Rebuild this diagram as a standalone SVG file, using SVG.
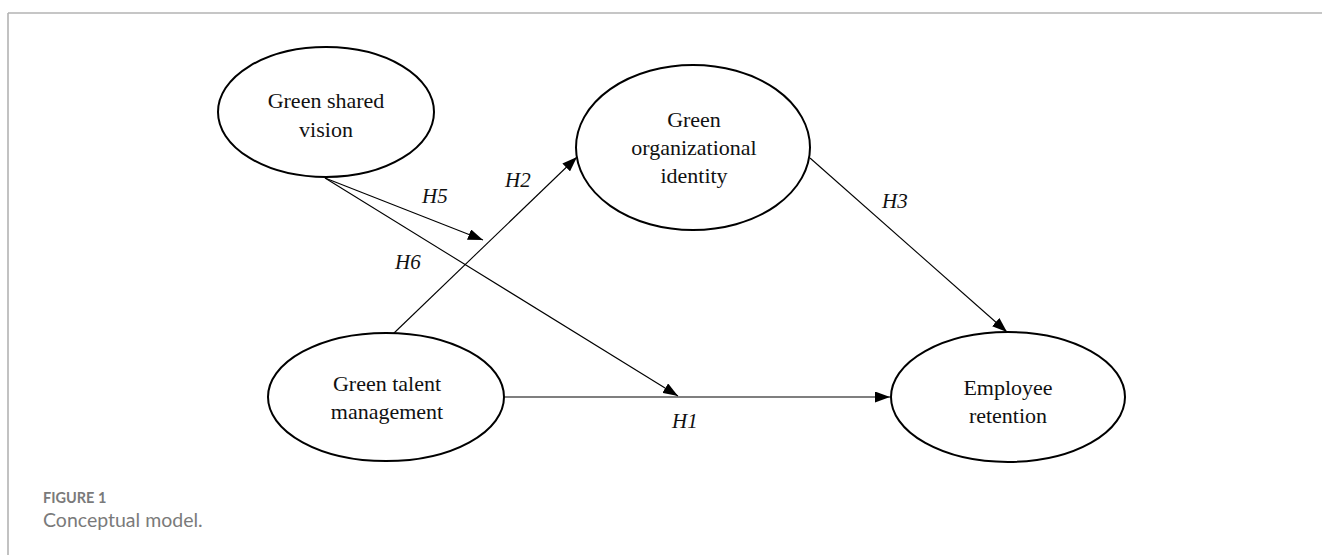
<svg xmlns="http://www.w3.org/2000/svg" width="1322" height="555" viewBox="0 0 1322 555">
<style>
.node ellipse{fill:#fff;stroke:#000;stroke-width:2}
.node text{font-family:"Liberation Serif","Times New Roman",serif;font-size:22px;fill:#111;text-anchor:middle}
.conn line{stroke:#000;stroke-width:1.1;fill:none}
.lbl{font-family:"Liberation Serif","Times New Roman",serif;font-style:italic;font-size:21px;fill:#111}
.frame{stroke:#b3b3b3;stroke-width:1.6;fill:none}
.cap1{font-family:Lato,"Open Sans",sans-serif;font-weight:bold;font-size:14.5px;fill:#7a7a7a}
.cap2{font-family:Lato,"Open Sans",sans-serif;font-size:19.5px;fill:#7a7a7a}
</style>
<defs>
<marker id="arr" markerUnits="userSpaceOnUse" markerWidth="15" markerHeight="11" refX="15" refY="5.5" orient="auto">
<path d="M0,0 L15,5.5 L0,11 z" fill="#000"/>
</marker>
</defs>
<rect width="1322" height="555" fill="#fff"/>
<line class="frame" x1="8" y1="13" x2="1322" y2="13"/>
<line class="frame" x1="8" y1="13" x2="8" y2="555"/>

<g id="connectors" class="conn">
<line x1="325" y1="178" x2="483" y2="240" marker-end="url(#arr)"/>
<line x1="325" y1="178" x2="678" y2="396" marker-end="url(#arr)"/>
<line x1="393" y1="334" x2="577" y2="157" marker-end="url(#arr)"/>
<line x1="810" y1="158" x2="1007" y2="332" marker-end="url(#arr)"/>
<line x1="504" y1="397" x2="890" y2="397" marker-end="url(#arr)"/>
</g>

<g id="node-gsv" class="node">
<ellipse cx="326" cy="112" rx="108" ry="65"/>
<text x="326" y="108">Green shared</text>
<text x="326" y="137">vision</text>
</g>
<g id="node-goi" class="node">
<ellipse cx="693" cy="147.5" rx="117" ry="82.5"/>
<text x="694" y="127">Green</text>
<text x="694" y="155">organizational</text>
<text x="694" y="183">identity</text>
</g>
<g id="node-gtm" class="node">
<ellipse cx="386" cy="397" rx="118" ry="64"/>
<text x="387" y="391">Green talent</text>
<text x="387" y="419">management</text>
</g>
<g id="node-er" class="node">
<ellipse cx="1008" cy="397" rx="117" ry="65"/>
<text x="1008" y="395">Employee</text>
<text x="1008" y="423">retention</text>
</g>

<g id="labels">
<text class="lbl" x="422" y="203">H5</text>
<text class="lbl" x="505" y="187">H2</text>
<text class="lbl" x="395" y="269">H6</text>
<text class="lbl" x="882" y="208">H3</text>
<text class="lbl" x="672" y="428">H1</text>
</g>

<g id="caption">
<text class="cap1" x="43" y="503">FIGURE 1</text>
<text class="cap2" x="43" y="527">Conceptual model.</text>
</g>
</svg>
